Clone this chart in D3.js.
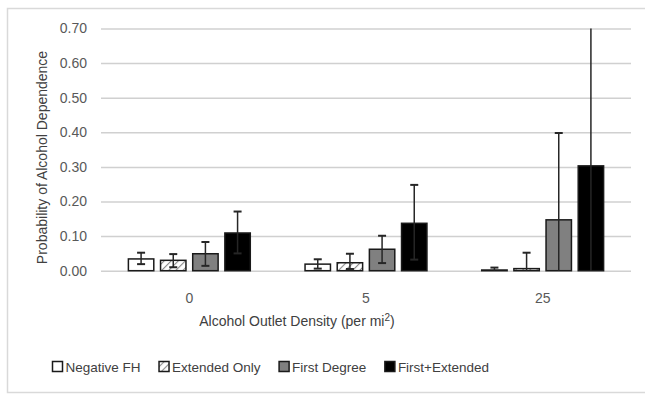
<!DOCTYPE html>
<html>
<head>
<meta charset="utf-8">
<script src="https://cdn.jsdelivr.net/npm/d3@7"></script>
<style>
  html, body { margin: 0; padding: 0; background: #fff; }
  svg { display: block; }
  text { font-family: "Liberation Sans", Arial, sans-serif; }
</style>
</head>
<body>
<svg id="chart" width="645" height="395"></svg>
<script>
// Outlet density groups and family-history series
const categories = ["0", "5", "25"];
const series = ["Negative FH", "Extended Only", "First Degree", "First+Extended"];

// Predicted probability per series, one value per density group
const negativeFH    = [0.034, 0.019, 0.002];
const extendedOnly  = [0.030, 0.023, 0.006];
const firstDegree   = [0.049, 0.062, 0.147];
const firstExtended = [0.109, 0.137, 0.303];

// Confidence interval bounds
const negativeFHLow     = [0.019, 0.006, 0.000];
const negativeFHHigh    = [0.052, 0.033, 0.009];
const extendedOnlyLow   = [0.010, 0.005, 0.000];
const extendedOnlyHigh  = [0.048, 0.049, 0.052];
const firstDegreeLow    = [0.014, 0.022, 0.000];
const firstDegreeHigh   = [0.083, 0.101, 0.398];
const firstExtendedLow  = [0.050, 0.032, 0.000];
const firstExtendedHigh = [0.171, 0.248, 0.700];

const yTicks = [0, 0.1, 0.2, 0.3, 0.4, 0.5, 0.6, 0.7];

const values = [negativeFH, extendedOnly, firstDegree, firstExtended];
const lows = [negativeFHLow, extendedOnlyLow, firstDegreeLow, firstExtendedLow];
const highs = [negativeFHHigh, extendedOnlyHigh, firstDegreeHigh, firstExtendedHigh];

const rows = [];
categories.forEach((c, ci) => {
  series.forEach((s, si) => {
    rows.push({ cat: c, series: s, si, value: values[si][ci], low: lows[si][ci], high: highs[si][ci] });
  });
});

const svg = d3.select("#chart");
const W = 645, H = 395;
const plot = { left: 101, right: 631, top: 28.5, bottom: 270.7 };

// Chart frame
svg.append("rect")
  .attr("x", 7.5).attr("y", 8.5)
  .attr("width", 660).attr("height", 384)
  .attr("fill", "#fff").attr("stroke", "#d9d9d9").attr("stroke-width", 1.5);

// Hatch for "Extended Only"
const defs = svg.append("defs");
const pat = defs.append("pattern")
  .attr("id", "hatch").attr("patternUnits", "userSpaceOnUse")
  .attr("width", 5).attr("height", 5)
  .attr("patternTransform", "rotate(45)");
pat.append("rect").attr("width", 5).attr("height", 5).attr("fill", "#fff");
pat.append("line").attr("x1", 0).attr("y1", 0).attr("x2", 0).attr("y2", 5)
  .attr("stroke", "#8c8c8c").attr("stroke-width", 2.2);

const fills = d3.scaleOrdinal().domain(series).range(["#ffffff", "url(#hatch)", "#808080", "#000000"]);

const y = d3.scaleLinear().domain([0, 0.7]).range([plot.bottom, plot.top]);
const x0 = d3.scaleBand().domain(categories).range([plot.left, plot.right])
  .paddingInner(0.31).paddingOuter(0.155);
const x1 = d3.scaleBand().domain(series).range([0, x0.bandwidth()]).paddingInner(0.21);

// Gridlines and y tick labels
const yAxis = d3.axisLeft(y).tickValues(yTicks).tickFormat(d3.format(".2f"))
  .tickSize(-(plot.right - plot.left)).tickPadding(14);
const gy = svg.append("g").attr("transform", `translate(${plot.left},0)`).call(yAxis);
gy.select(".domain").remove();
gy.selectAll(".tick line").attr("stroke", "#d0d0d0").attr("stroke-width", 1.5);
gy.selectAll(".tick text").attr("fill", "#595959").style("font-size", "14px")
  .style("font-family", "'Liberation Sans', Arial, sans-serif");

// Category labels
const xAxis = d3.axisBottom(x0).tickSize(0).tickPadding(22);
const gx = svg.append("g").attr("transform", `translate(0,${plot.bottom})`).call(xAxis);
gx.select(".domain").remove();
gx.selectAll(".tick text").attr("fill", "#595959").style("font-size", "14px")
  .style("font-family", "'Liberation Sans', Arial, sans-serif");

// Bars
const bars = svg.append("g");
bars.selectAll("rect").data(rows).join("rect")
  .attr("x", d => x0(d.cat) + x1(d.series))
  .attr("y", d => y(d.value))
  .attr("width", x1.bandwidth())
  .attr("height", d => y(0) - y(d.value))
  .attr("fill", d => fills(d.series))
  .attr("stroke", "#1a1a1a").attr("stroke-width", 1.5);

// Error bars
const errs = svg.append("g").attr("stroke", "#262626").attr("stroke-width", 1.5);
const capW = 4;
rows.forEach(d => {
  const cx = x0(d.cat) + x1(d.series) + x1.bandwidth() / 2;
  errs.append("line").attr("x1", cx).attr("x2", cx).attr("y1", y(d.low)).attr("y2", y(d.high));
  if (d.high < 0.7) {
    errs.append("line").attr("x1", cx - capW).attr("x2", cx + capW).attr("y1", y(d.high)).attr("y2", y(d.high)).attr("stroke-width", 2);
  }
  if (d.low > 0) {
    errs.append("line").attr("x1", cx - capW).attr("x2", cx + capW).attr("y1", y(d.low)).attr("y2", y(d.low)).attr("stroke-width", 2);
  }
});

// Axis titles
svg.append("text")
  .attr("transform", `translate(47,157.5) rotate(-90)`)
  .attr("text-anchor", "middle")
  .attr("fill", "#404040").style("font-size", "14px")
  .text("Probability of Alcohol Dependence");

const xt = svg.append("text")
  .attr("x", 297).attr("y", 326)
  .attr("text-anchor", "middle")
  .attr("fill", "#404040").style("font-size", "14px");
xt.append("tspan").text("Alcohol Outlet Density (per mi");
xt.append("tspan").attr("font-size", "10px").attr("dy", -5).text("2");
xt.append("tspan").attr("dy", 5).text(")");

// Legend
const legend = svg.append("g").attr("transform", "translate(52,366.5)");
let lx = 0;
series.forEach((s, i) => {
  const g = legend.append("g").attr("transform", `translate(${lx},0)`);
  g.append("rect").attr("x", 0.5).attr("y", -5).attr("width", 10).attr("height", 10)
    .attr("fill", fills(s)).attr("stroke", "#1a1a1a").attr("stroke-width", 1.5);
  const t = g.append("text").attr("x", 13.5).attr("y", 5)
    .attr("fill", "#404040").style("font-size", "13.5px").text(s);
  lx += 13.5 + t.node().getComputedTextLength() + 18;
});
</script>
</body>
</html>
